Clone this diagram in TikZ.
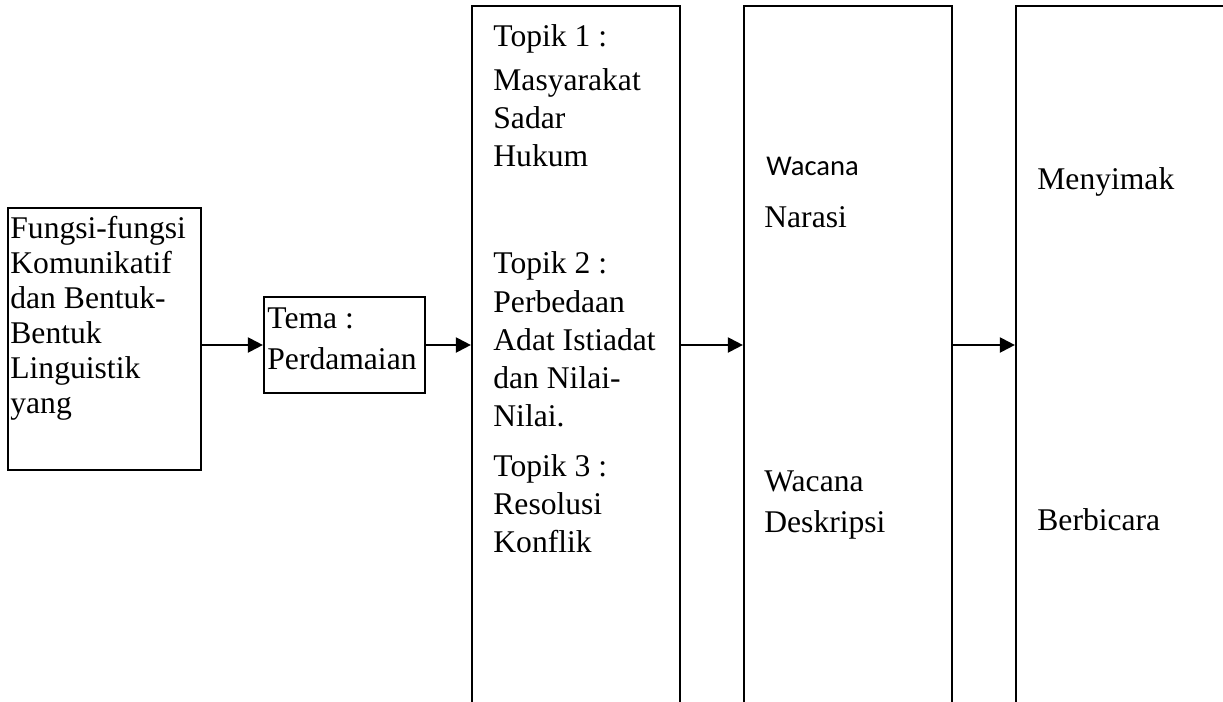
\documentclass[tikz,border=0pt]{standalone}
\usepackage{fontspec}
\setmainfont{Liberation Serif}
\newfontfamily\calibri{Carlito}
\usetikzlibrary{arrows.meta,calc,positioning}
\tikzset{
  box/.style={draw, line width=1.1pt, inner sep=0pt},
  txt/.style={anchor=base west, inner sep=0pt, font=\fontsize{15.8}{20}\selectfont},
  ctxt/.style={anchor=base west, inner sep=0pt, font=\calibri\fontsize{14.3}{18}\selectfont},
  arr/.style={line width=1.1pt, -{Triangle[length=7.5pt,width=7.5pt]}}
}
\begin{document}
\begin{tikzpicture}[x=0.5pt,y=-0.5pt]
  \clip (0,0) rectangle (1223,702);
  % boxes
  \node[box, minimum width=96.5pt, minimum height=131pt] (fungsi) at (104.5,339) {};
  \node[box, minimum width=80.5pt, minimum height=48pt] (tema) at (344.5,345) {};
  \node[box, minimum width=104pt, minimum height=377pt] (topik) at (576,383) {};
  \node[box, minimum width=104pt, minimum height=377pt] (wacana) at (848,383) {};
  \node[box, minimum width=142pt, minimum height=377pt] (skill) at (1158,383) {};
  % texts
  \foreach \t [count=\i] in {Fungsi-fungsi, Komunikatif, dan Bentuk-, Bentuk, Linguistik, yang}
    \node[txt] (f\i) at (10,203+35*\i) {\t};
  \node[txt] (tema1) at (267,328) {Tema :};
  \node[txt] (tema2) at (267,369) {Perdamaian};
  \foreach \t/\y [count=\i] in {Topik 1 :/46, Masyarakat/90, Sadar/128, Hukum/166,
      Topik 2 :/273, Perbedaan/312, Adat Istiadat/350, dan Nilai-/388, Nilai./426,
      Topik 3 :/476, Resolusi/514, Konflik/552}
    \node[txt] (t\i) at (493,\y) {\t};
  \node[ctxt] (w1) at (766,175) {Wacana};
  \node[txt] (w2) at (764,227) {Narasi};
  \node[txt] (w3) at (764,491) {Wacana};
  \node[txt] (w4) at (764,532) {Deskripsi};
  \node[txt] (s1) at (1037,189) {Menyimak};
  \node[txt] (s2) at (1037,530) {Berbicara};
  % arrows
  \draw[arr] (fungsi.east |- tema.west) -- (tema.west);
  \draw[arr] (tema.east) -- (topik.west |- tema.east);
  \draw[arr] (topik.east |- tema.east) -- (wacana.west |- tema.east);
  \draw[arr] (wacana.east |- tema.east) -- (skill.west |- tema.east);
\end{tikzpicture}
\end{document}
